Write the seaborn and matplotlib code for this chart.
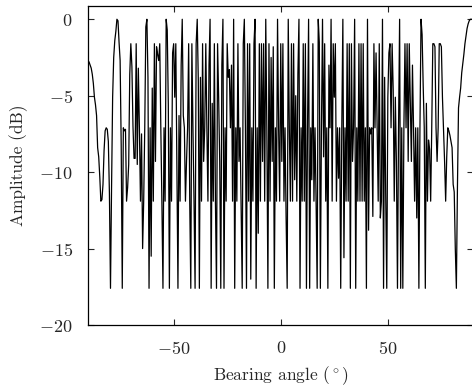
import numpy as np
import pandas as pd
import matplotlib
matplotlib.use("Agg")
import matplotlib.pyplot as plt
import seaborn as sns

amp_seg1 = [-2.7, -2.8, -3.0, -3.2, -3.6, -4.2, -5.1, -5.6, -6.3, -8.4, -9.0, -10.3, -11.9,
            -11.8, -10.8, -8.6, -7.3, -7.1, -7.2, -8.0, -11.4, -17.6, -11.0, -5.1, -2.5, -1.4,
            -0.8, 0.0, -0.1, -1.5, -2.7, -8.2, -17.6, -7.1, -7.3, -7.2, -11.9, -11.0, -9.5,
            -3.6, -1.6, -3.1, -7.0, -9.1]
amp_seg2 = [-9.1, -1.6, -9.5, -3.2, -7.1, -11.9, -7.5, -15.0, -11.9, -7.1, -0.5, 0.0, -3.8,
            -17.6, -7.1, -15.5, -4.5, -11.9, -1.6, -9.3, -1.8, -2.3, -2.7, -1.6, -7.1, -11.9,
            -17.6, -7.1, -11.9, 0.0, -0.7, -5.6, -17.6, -7.1, -11.9, -2.2, -1.6, -5.1, -1.6,
            -9.6, -17.6, -6.3, -11.9, -3.0, 0.0, -6.3]
amp_seg3 = [-7.1, -11.9, -9.3, -7.1, -1.6, -11.9, -17.6, -1.6, -7.1, -11.9, -17.6, -1.6, 0.0,
            -4.0, -17.6, -3.8, -11.9, -1.6, -9.3, -7.1, -1.6, -7.1, -11.9, -3.0, 0.0, -17.6,
            -5.5, -11.9, -1.6, -11.9, -17.6, -1.6, -5.1, -9.3, -17.6, -3.0, 0.0, -17.6, -7.1,
            -11.9, -1.6, -3.8, -3.3, -7.1]
amp_seg4 = [-3.0, -11.9, 0.0, -17.6, -7.1, -11.9, -1.6, -9.3, -7.1, -12.5, -17.6, -1.6, 0.0,
            -7.1, -17.6, -1.6, -11.9, -1.6, -17.0, -7.1, -11.9, -1.6, 0.0, -17.6, -7.1, -14.0,
            -1.6, -11.9, -1.6, -9.3, -1.6, -11.9, 0.0, -7.1, -17.6, -1.6, -11.9, -2.5, -9.3,
            -1.8, -17.6, -7.1, -11.9, 0.0, -7.1, -11.9]
amp_seg5 = [-1.6, -9.3, -1.6, -11.9, -7.1, -13.0, -17.6, 0.0, -7.1, -11.9, -1.6, -11.9, -1.6,
            -10.5, -5.0, -11.9, -3.6, 0.0, -17.6, -7.1, -11.9, -1.6, -11.9, -1.6, -17.6, -7.1,
            0.0, -17.6, -7.1, -10.5, -1.6, -11.9, -7.1, -11.9, -17.6, 0.0, -1.5, -17.6, -7.1,
            0.0, -9.0, -1.6, -11.9]
amp_seg6 = [-7.1, -17.6, -3.0, -7.1, 0.0, -11.9, -1.6, -5.1, -1.6, -11.9, -7.1, -10.4, -7.1,
            -17.6, -7.1, 0.0, -15.6, -7.1, -11.9, -1.6, -11.9, -1.6, -17.6, -1.6, -9.3, -7.1,
            0.0, -17.6, -7.1, -11.9, -1.6, -11.9, -1.6, -11.9, -1.6, -11.9, -7.1, -17.6, 0.0,
            -13.8, -7.1, -7.5, -7.1, -12.9, -1.6, -7.1, -2.2]
amp_seg7 = [-7.1, -11.9, -1.6, -13.0, -11.9, 0.0, -17.6, -3.8, -11.4, -17.6, -5.1, -2.2, -1.6,
            -7.1, -1.6, -4.6, -11.9, -5.1, -9.3, -17.6, -7.1, 0.0, -17.6, -7.1, -17.6, -7.1,
            -1.6, -7.1, -1.6, -9.3, -1.6, -5.6, -9.3, -3.0, -7.1, -11.9, -7.1, -13.0, -7.1,
            -17.6, -7.1, 0.0, -1.0, -4.3]
amp_seg8 = [-7.1, -17.6, -5.5, -11.9, -7.9, -8.5, -11.9, -7.1, -1.6, -1.6, -1.8, -7.1, -9.3,
            -7.1, -1.6, -1.6, -1.8, -5.1, -7.1, -9.3, -11.9, -9.0, -7.1, -7.3, -7.6, -8.0,
            -8.4, -10.8, -11.3, -15.0, -17.6, -11.0, -5.8, -5.1, -4.5, -3.5, -2.9, -2.3, -1.6,
            -1.1, -0.6, -0.3, -0.1, 0.0, 0.0, 0.0, 0.0]

amplitude = (amp_seg1 + amp_seg2 + amp_seg3 + amp_seg4 +
             amp_seg5 + amp_seg6 + amp_seg7 + amp_seg8)
angle_start = -90.0
angle_step = 0.5
angle = [angle_start + angle_step * i for i in range(len(amplitude))]

x_ticks = [-50, 0, 50]
y_ticks = [-20, -15, -10, -5, 0]
x_label = r"Bearing angle $(^\circ)$"
y_label = "Amplitude (dB)"

df = pd.DataFrame({"angle": angle, "amp": amplitude})

sns.set_style("ticks")
plt.rcParams["font.family"] = ["cmr10", "DejaVu Serif"]
plt.rcParams["mathtext.fontset"] = "cm"
plt.rcParams["axes.formatter.use_mathtext"] = True
plt.rcParams["axes.unicode_minus"] = True

fig = plt.figure(figsize=(4.72, 3.91), dpi=100)
ax = fig.add_axes([88 / 472, 1 - 325 / 391, 385.5 / 472, 319.5 / 391])

sns.lineplot(data=df, x="angle", y="amp", ax=ax, color="black", linewidth=0.9,
             estimator=None, sort=False)

ax.set_xlim(-90, 90)
ax.set_ylim(-20, 0.9)
ax.set_xticks(x_ticks)
ax.set_yticks(y_ticks)
ax.set_xlabel(x_label, fontsize=12.5, labelpad=5)
ax.set_ylabel(y_label, fontsize=12.5, labelpad=8)
ax.tick_params(direction="in", length=4, width=0.8, top=True, right=True,
               labelsize=13)
ax.tick_params(axis="x", pad=11)
ax.tick_params(axis="y", pad=11)
for sp in ax.spines.values():
    sp.set_linewidth(0.9)
    sp.set_color("black")
    sp.set_visible(True)

fig.savefig("out.png", dpi=100)
